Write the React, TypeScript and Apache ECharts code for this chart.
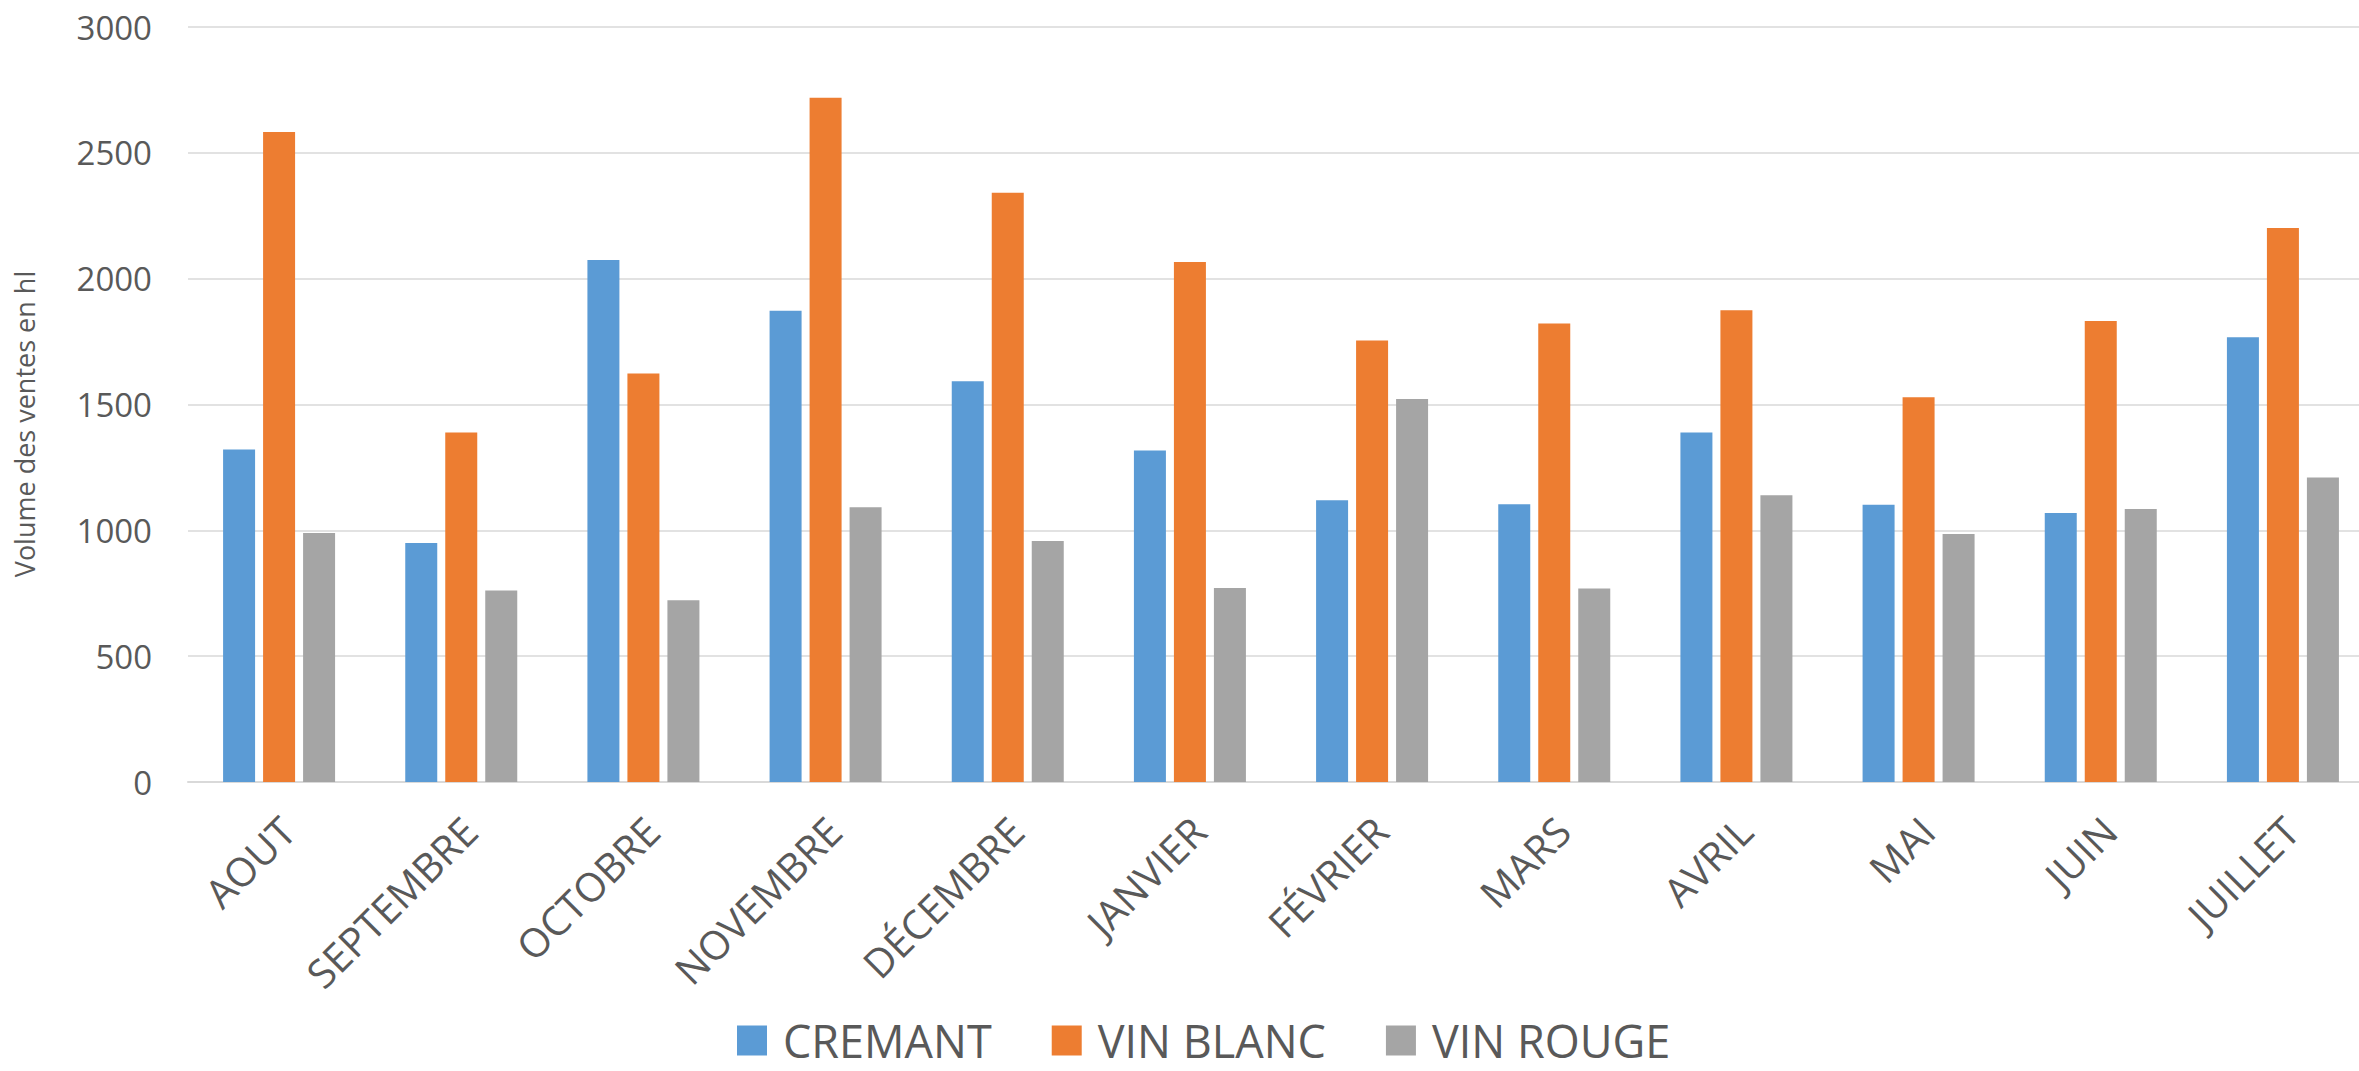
import React, { useEffect, useRef } from "react";
import * as echarts from "echarts";

const categories = ["AOUT", "SEPTEMBRE", "OCTOBRE", "NOVEMBRE", "DÉCEMBRE", "JANVIER", "FÉVRIER", "MARS", "AVRIL", "MAI", "JUIN", "JUILLET"];
const seriesNames = ["CREMANT", "VIN BLANC", "VIN ROUGE"];
const cremant = [1321, 950, 2074, 1873, 1592, 1317, 1120, 1104, 1389, 1102, 1069, 1767];
const vinBlanc = [2583, 1389, 1623, 2719, 2341, 2066, 1754, 1822, 1875, 1529, 1832, 2201];
const vinRouge = [989, 761, 722, 1092, 958, 771, 1522, 769, 1139, 985, 1085, 1210];
const colors = ["#5B9BD5", "#ED7D31", "#A5A5A5"];
const yAxisTitle = "Volume des ventes en hl";

export default function App() {
  const ref = useRef<HTMLDivElement>(null);
  useEffect(() => {
    if (!ref.current) return;
    const chart = echarts.init(ref.current, null, { renderer: "svg" });
    const font = "'Open Sans', 'Liberation Sans', sans-serif";
    const values = [cremant, vinBlanc, vinRouge];
    chart.setOption({
      animation: false,
      backgroundColor: "#ffffff",
      color: colors,
      textStyle: { fontFamily: font },
      grid: { left: 188, right: -15, top: 27, bottom: 289, outerBoundsMode: "none", containLabel: false },
      legend: {
        data: seriesNames,
        icon: "rect",
        itemWidth: 30,
        itemHeight: 30,
        itemGap: 60,
        left: 732,
        top: 1013,
        textStyle: { fontSize: 45, color: "#595959", fontFamily: font, padding: [0, 0, 0, 11] },
      },
      xAxis: {
        type: "category",
        data: categories,
        axisLine: { show: true, lineStyle: { color: "#D9D9D9", width: 2 } },
        axisTick: { show: false },
        axisLabel: {
          rotate: 45,
          fontSize: 40,
          color: "#595959",
          margin: 22,
          fontFamily: font,
          interval: 0,
          verticalAlign: "top",
          padding: [0, 8, 0, 0],
        },
      },
      yAxis: {
        type: "value",
        min: 0,
        max: 3000,
        interval: 500,
        axisLine: { show: false },
        axisTick: { show: false },
        axisLabel: {
          fontSize: 33,
          color: "#595959",
          margin: 36,
          fontFamily: font,
          formatter: (v: number) => String(v),
        },
        splitLine: { lineStyle: { color: "#D9D9D9", width: 1.5 } },
      },
      graphic: [
        {
          type: "text",
          x: 24,
          y: 424,
          rotation: Math.PI / 2,
          style: {
            text: yAxisTitle,
            fontSize: 27,
            fill: "#595959",
            fontFamily: font,
            align: "center",
            verticalAlign: "middle",
          },
        },
      ],
      series: seriesNames.map((name, i) => ({
        name,
        type: "bar",
        data: values[i],
        barWidth: 32,
        barGap: "25%",
        itemStyle: { color: colors[i] },
      })),
    });
    return () => chart.dispose();
  }, []);
  return <div ref={ref} style={{ position: "fixed", left: 0, top: 0, width: 2359, height: 1071 }} />;
}
